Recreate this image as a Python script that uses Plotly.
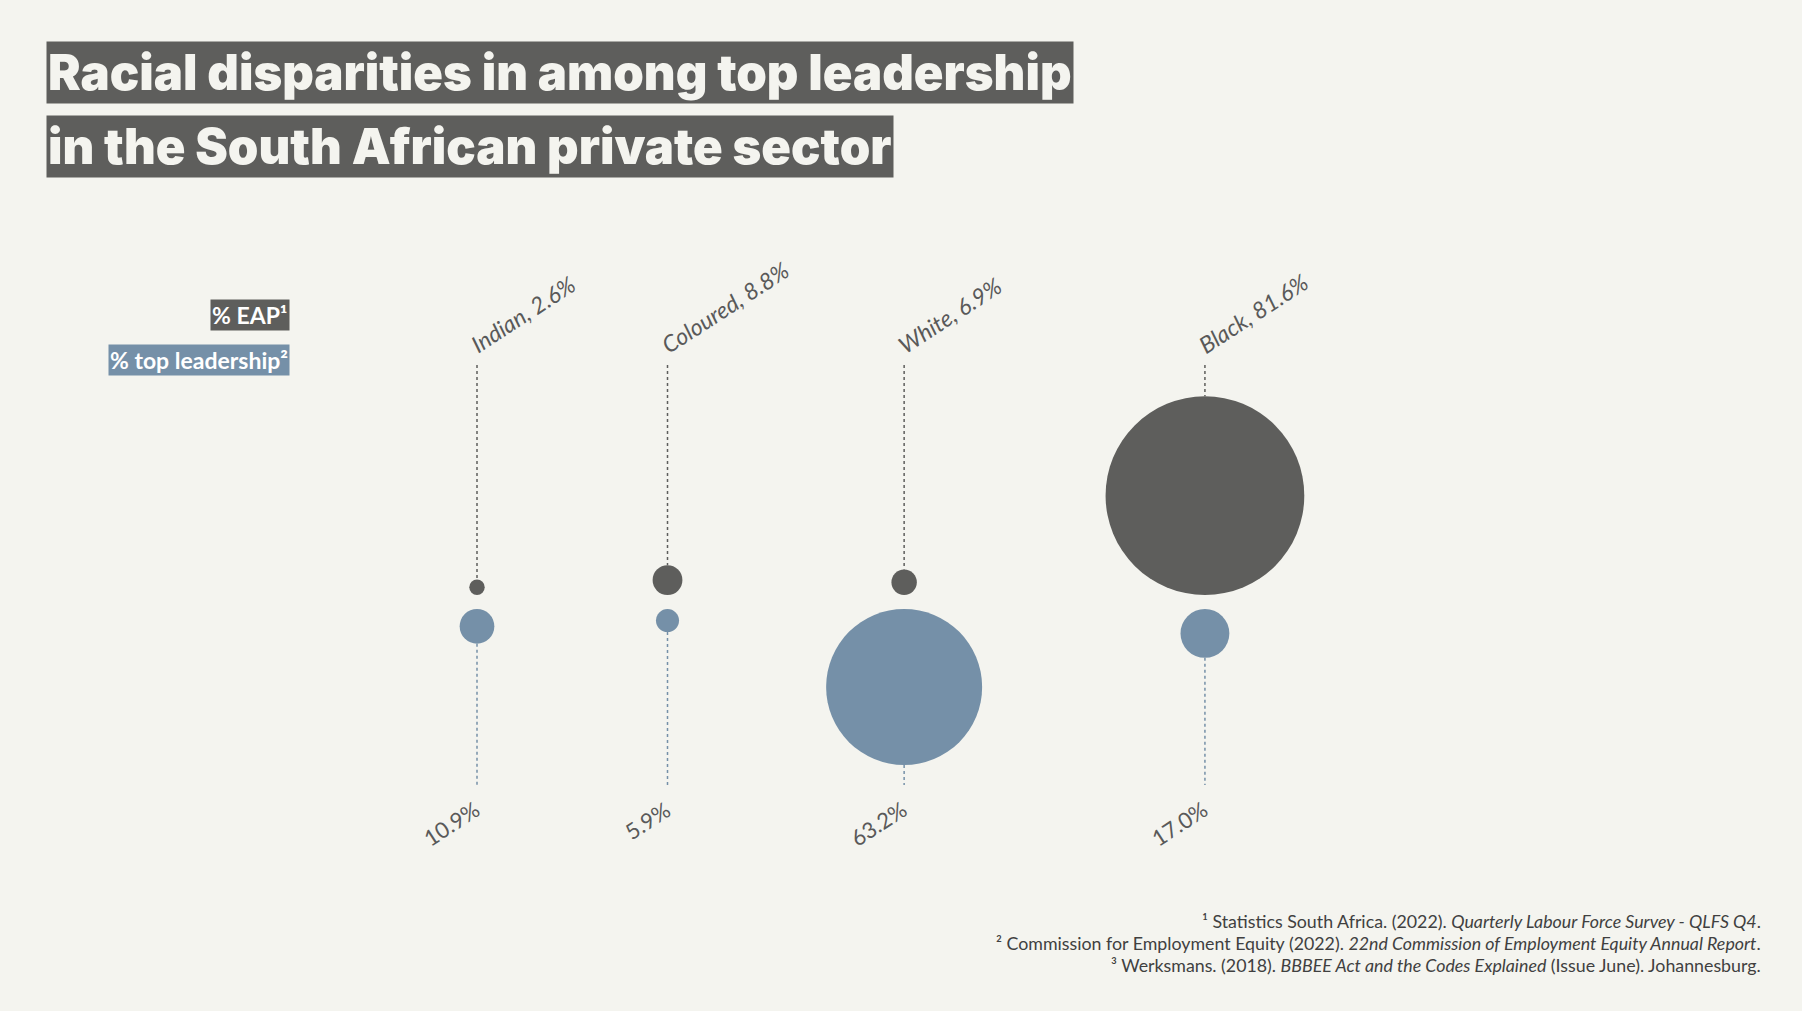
import plotly.graph_objects as go

# ---------------- data ----------------
groups = ["Indian", "Coloured", "White", "Black"]
eap_pct = [2.6, 8.8, 6.9, 81.6]            # % of economically active population
leadership_pct = [10.9, 5.9, 63.2, 17.0]   # % of top leadership
legend_labels = ["% EAP¹", "% top leadership²"]
title_lines = ["Racial disparities in among top leadership",
               "in the South African private sector"]
footnotes = [
    "¹ Statistics South Africa. (2022). <i>Quarterly Labour Force Survey - QLFS Q4</i>.",
    "² Commission for Employment Equity (2022). <i>22nd Commission of Employment Equity Annual Report</i>.",
    "³ Werksmans. (2018). <i>BBBEE Act and the Codes Explained</i> (Issue June). Johannesburg.",
]

# ---------------- style ----------------
W, H = 1802, 1011
BG = "#f4f4ef"
DARK = "#5e5e5c"
BLUE = "#7590a8"
LABEL = "#595959"
FOOT = "#404040"
FONT = "Lato"
TITLE_FONT = "Inter"

# bubble diameter scale (px) from percentage
def diam(v):
    return 9.4 + 2.32 * v

d_eap = [diam(v) for v in eap_pct]
d_lead = [diam(v) for v in leadership_pct]

# column positions: packed according to bubble sizes
X0, GAP, K = 477, 166, 0.38
dmax = [max(a, b) for a, b in zip(d_eap, d_lead)]
xs = [X0]
for i in range(1, len(groups)):
    xs.append(xs[-1] + GAP + K * (dmax[i - 1] + dmax[i]))

EAP_BASE = 595     # EAP bubbles sit on this line
LEAD_BASE = 609    # leadership bubbles hang from this line
TOP_LINE = 365
BOTTOM_LINE = 785

y_eap = [EAP_BASE - d / 2 for d in d_eap]
y_lead = [LEAD_BASE + d / 2 for d in d_lead]

fig = go.Figure()

# dotted leader lines
for x, d in zip(xs, d_eap):
    fig.add_trace(go.Scatter(x=[x, x], y=[TOP_LINE, EAP_BASE - d], mode="lines",
                             line=dict(color=DARK, width=1.5, dash="dot"),
                             hoverinfo="skip", showlegend=False))
for x, d in zip(xs, d_lead):
    fig.add_trace(go.Scatter(x=[x, x], y=[LEAD_BASE + d, BOTTOM_LINE], mode="lines",
                             line=dict(color=BLUE, width=1.5, dash="dot"),
                             hoverinfo="skip", showlegend=False))

# bubbles
fig.add_trace(go.Scatter(x=xs, y=y_eap, mode="markers",
                         marker=dict(size=d_eap, sizemode="diameter", color=DARK,
                                     line=dict(width=0), opacity=1),
                         text=groups, showlegend=False))
fig.add_trace(go.Scatter(x=xs, y=y_lead, mode="markers",
                         marker=dict(size=d_lead, sizemode="diameter", color=BLUE,
                                     line=dict(width=0), opacity=1),
                         text=groups, showlegend=False))

ann = []
# top labels
for x, g, v in zip(xs, groups, eap_pct):
    ann.append(dict(x=x, y=361, xref="x", yref="y", xshift=-14,
                    text=f"{g}, {v:.1f}%", showarrow=False, textangle=-33,
                    xanchor="left", yanchor="bottom",
                    font=dict(family=FONT, size=23, color=LABEL, style="italic")))
# bottom labels
for x, v in zip(xs, leadership_pct):
    ann.append(dict(x=x, y=793, xref="x", yref="y", xshift=10,
                    text=f"{v:.1f}%", showarrow=False, textangle=-33,
                    xanchor="right", yanchor="top",
                    font=dict(family=FONT, size=22, color=LABEL)))

# legend boxes
for lab, col, yc in zip(legend_labels, [DARK, BLUE], [315, 360]):
    ann.append(dict(x=290, y=yc, xref="x", yref="y", text=lab, showarrow=False,
                    xanchor="right", yanchor="middle", bgcolor=col, borderpad=1,
                    font=dict(family=FONT, size=23, color="white", weight="bold")))

# title boxes
for line, yc in zip(title_lines, [72.5, 146.5]):
    ann.append(dict(x=46, y=yc, xref="x", yref="y", text=line, showarrow=False,
                    xanchor="left", yanchor="middle", bgcolor=DARK, borderpad=1,
                    font=dict(family=TITLE_FONT, size=49, color=BG, weight=900)))

# footnotes
for fn, yc in zip(footnotes, [920.5, 942.5, 965]):
    ann.append(dict(x=1763, y=yc, xref="x", yref="y", text=fn, showarrow=False,
                    xanchor="right", yanchor="middle",
                    font=dict(family=FONT, size=17.8, color=FOOT)))

fig.update_layout(
    width=W, height=H,
    margin=dict(l=0, r=0, t=0, b=0),
    paper_bgcolor=BG, plot_bgcolor=BG,
    xaxis=dict(range=[0, W], visible=False, fixedrange=True),
    yaxis=dict(range=[H, 0], visible=False, fixedrange=True),
    annotations=ann,
    showlegend=False,
)

fig.write_html("out.html")
